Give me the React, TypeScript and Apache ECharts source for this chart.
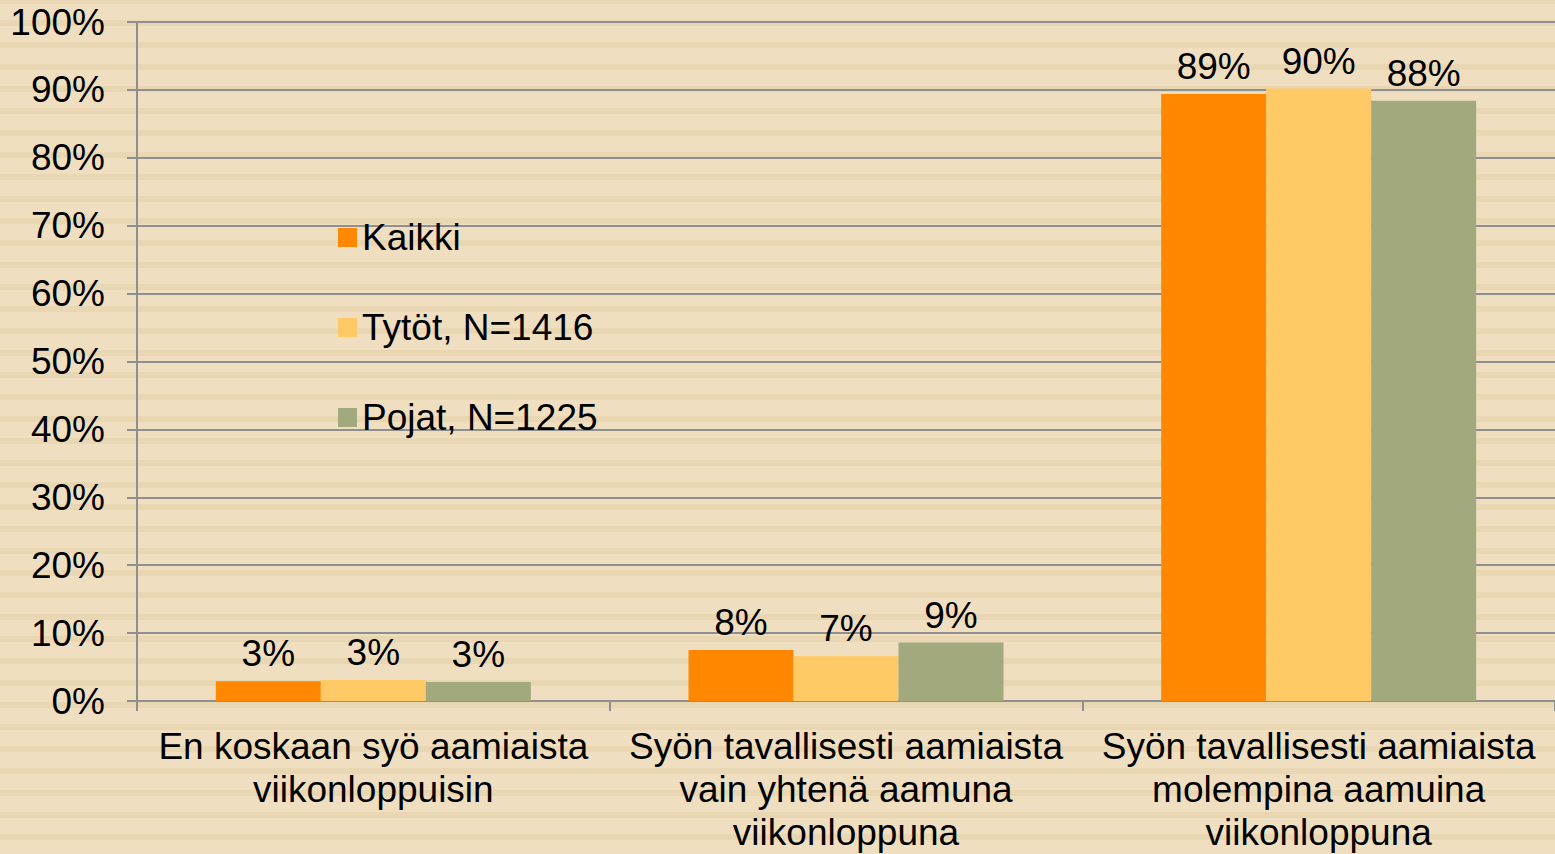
import React, { useEffect, useRef } from "react";
import * as echarts from "echarts";

const categories = [
  "En koskaan syö aamiaista\nviikonloppuisin",
  "Syön tavallisesti aamiaista\nvain yhtenä aamuna\nviikonloppuna",
  "Syön tavallisesti aamiaista\nmolempina aamuina\nviikonloppuna",
];
const seriesNames = ["Kaikki", "Tytöt, N=1416", "Pojat, N=1225"];
const kaikki = [2.9, 7.5, 89.4];
const tytot = [3.1, 6.6, 90.2];
const pojat = [2.8, 8.6, 88.4];
const colors = ["#ff8800", "#ffc966", "#a3a97f"];

const FONT = "'Liberation Sans', Arial, sans-serif";
const FS = 37;

export default function App() {
  const ref = useRef<HTMLDivElement>(null);
  useEffect(() => {
    if (!ref.current) return;
    const chart = echarts.init(ref.current, null, { renderer: "svg" });
    const values = [kaikki, tytot, pojat];
    chart.setOption({
      animation: false,
      textStyle: { fontFamily: FONT },
      grid: { left: 137, right: 0, top: 22, bottom: 149, containLabel: false },
      legend: {
        orient: "vertical",
        left: 333,
        top: 214,
        itemWidth: 19,
        itemHeight: 19,
        itemGap: 53,
        icon: "rect",
        textStyle: { fontSize: FS, color: "#000", fontFamily: FONT },
        data: seriesNames,
      },
      xAxis: {
        type: "category",
        data: categories,
        axisLine: { lineStyle: { color: "#8f8f8f", width: 2 } },
        axisTick: { show: true, length: 10, lineStyle: { color: "#8f8f8f", width: 2 } },
        axisLabel: {
          fontSize: FS,
          color: "#000",
          fontFamily: FONT,
          lineHeight: 43,
          margin: 24,
          interval: 0,
        },
      },
      yAxis: {
        type: "value",
        min: 0,
        max: 100,
        interval: 10,
        axisLine: { show: true, lineStyle: { color: "#8f8f8f", width: 2 } },
        axisTick: { show: true, length: 10, lineStyle: { color: "#8f8f8f", width: 2 } },
        splitLine: { lineStyle: { color: "#8f8f8f", width: 2 } },
        axisLabel: {
          fontSize: FS,
          color: "#000",
          fontFamily: FONT,
          margin: 32,
          formatter: (v: number) => v + "%",
        },
      },
      series: seriesNames.map((name, i) => ({
        name,
        type: "bar",
        data: values[i],
        barWidth: 105,
        barGap: "0%",
        itemStyle: { color: colors[i] },
        label: {
          show: true,
          position: "top",
          distance: 9,
          fontSize: FS,
          color: "#000",
          fontFamily: FONT,
          formatter: (p: any) => Math.round(p.value) + "%",
        },
      })),
    });
    return () => chart.dispose();
  }, []);
  return (
    <div
      ref={ref}
      style={{
        position: "absolute",
        left: 0,
        top: 0,
        width: 1555,
        height: 854,
        background:
          "repeating-linear-gradient(to bottom, #e8d7b2 0px, #e8d7b2 4px, #efdfc0 4px, #efdfc0 20px, #e8d7b2 20px, #e8d7b2 22px)",
      }}
    />
  );
}
